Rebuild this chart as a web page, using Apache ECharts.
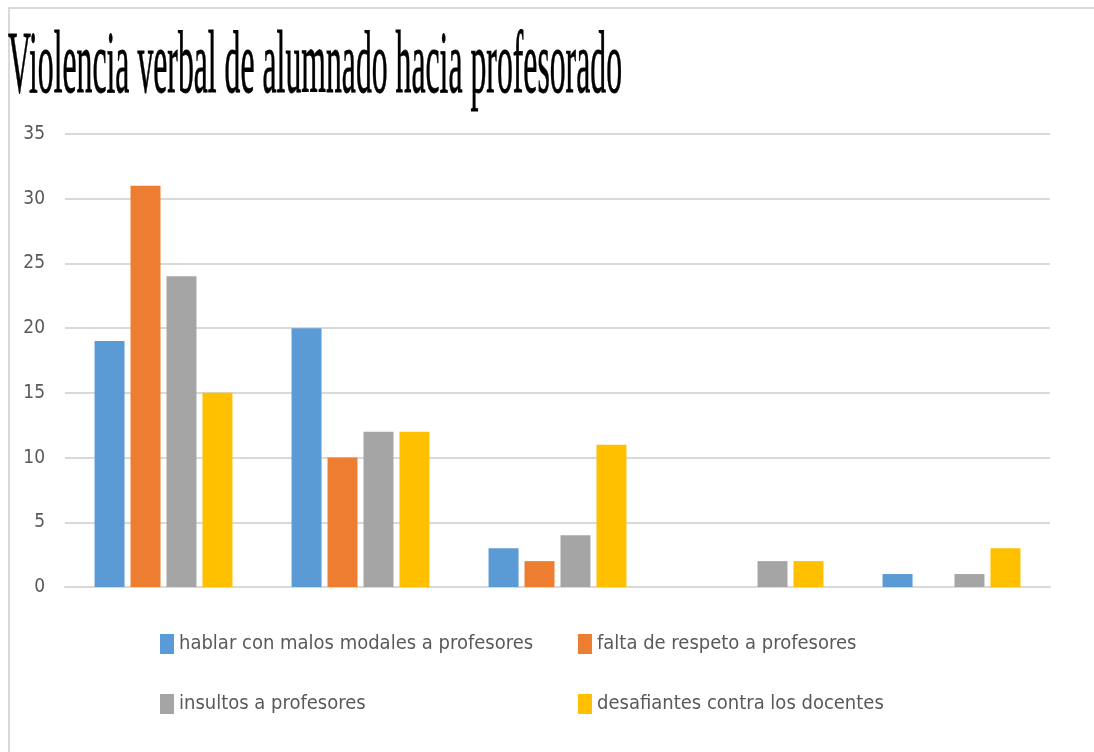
<!DOCTYPE html>
<html>
<head>
<meta charset="utf-8">
<script src="https://cdn.jsdelivr.net/npm/echarts@6/dist/echarts.min.js"></script>
<style>
html,body{margin:0;padding:0;background:#fff;}
#chart{width:1094px;height:752px;}
</style>
</head>
<body>
<div id="chart"></div>
<script>
const titleText = 'Violencia verbal de alumnado hacia profesorado';
const categories = ['1', '2', '3', '4', '5'];
const seriesNames = [
  'hablar con malos modales a profesores',
  'falta de respeto a profesores',
  'insultos a profesores',
  'desafiantes contra los docentes'
];
const hablarValues = [19, 20, 3, 0, 1];
const faltaValues = [31, 10, 2, 0, 0];
const insultosValues = [24, 12, 4, 2, 1];
const desafiantesValues = [15, 12, 11, 2, 3];
const yTicks = { min: 0, max: 35, interval: 5 };

const colors = ['#5B9BD5', '#ED7D31', '#A5A5A5', '#FFC000'];
const seriesValues = [hablarValues, faltaValues, insultosValues, desafiantesValues];

// measure title width to condense it like the reference
const titleFont = 'normal 89px "Liberation Serif", "Times New Roman", serif';
const cv = document.createElement('canvas').getContext('2d');
cv.font = titleFont;
const titleW = cv.measureText(titleText).width;
const titleScale = 614 / titleW;

const labelFont = '"Liberation Sans Narrow", "DejaVu Sans Condensed", "Liberation Sans", sans-serif';

const chart = echarts.init(document.getElementById('chart'));
const legendPos = [
  { left: 160, top: 634 },
  { left: 578, top: 634 },
  { left: 160, top: 694 },
  { left: 578, top: 694 }
];
chart.setOption({
  animation: false,
  color: colors,
  graphic: [
    { type: 'line', shape: { x1: 8, y1: 8, x2: 1094, y2: 8 }, style: { stroke: '#d9d9d9', lineWidth: 2 } },
    { type: 'line', shape: { x1: 9, y1: 8, x2: 9, y2: 752 }, style: { stroke: '#d9d9d9', lineWidth: 2 } },
    {
      type: 'text', x: 8, y: 24, scaleX: titleScale, scaleY: 1,
      style: { text: titleText, font: titleFont, fill: '#000', stroke: '#000', lineWidth: 0.8, verticalAlign: 'top', align: 'left' }
    }
  ],
  grid: { left: 65, right: 44, top: 134, bottom: 165, containLabel: false },
  xAxis: {
    type: 'category',
    data: categories,
    axisLine: { show: true, lineStyle: { color: '#d9d9d9', width: 2 } },
    axisTick: { show: false },
    axisLabel: { show: false }
  },
  yAxis: {
    type: 'value',
    min: yTicks.min, max: yTicks.max, interval: yTicks.interval,
    axisLine: { show: false },
    axisTick: { show: false },
    axisLabel: { color: '#595959', fontSize: 19, margin: 20, fontFamily: labelFont },
    splitLine: { lineStyle: { color: '#d9d9d9', width: 2 } }
  },
  legend: seriesNames.map((n, i) => ({
    data: [n],
    left: legendPos[i].left, top: legendPos[i].top,
    padding: 0,
    orient: 'horizontal',
    icon: 'rect', itemWidth: 14, itemHeight: 20,
    textStyle: { color: '#595959', fontSize: 20, fontFamily: labelFont, padding: [0, 0, 0, 0] },
    selectedMode: false
  })),
  series: seriesNames.map((n, i) => ({
    name: n,
    type: 'bar',
    data: seriesValues[i],
    barGap: '20%',
    barCategoryGap: '30%',
    itemStyle: { color: colors[i] }
  }))
});
</script>
</body>
</html>
